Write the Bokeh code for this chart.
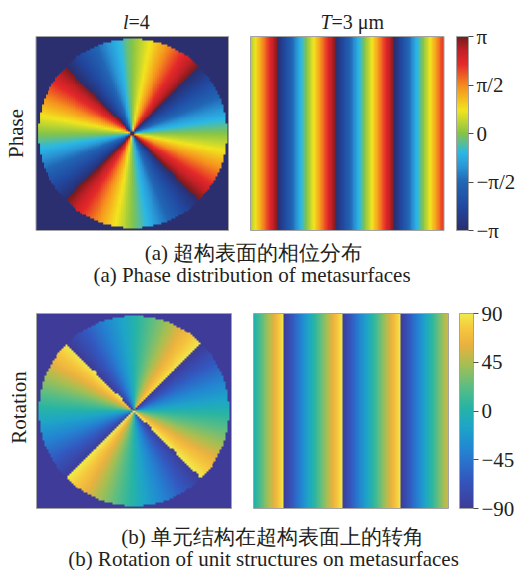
import numpy as np
from bokeh.plotting import figure
from bokeh.models import LinearColorMapper, ColorBar, FixedTicker, Range1d
from bokeh.core.properties import value
from bokeh.embed import file_html
from bokeh.resources import INLINE

# ---------------- data ----------------
topological_charge = 4          # l
grating_period_um = 3.0         # T (µm)
grating_width_um = 10.0
phase_offset_top = 0.22         # rad, read from stripe positions
phase_offset_bottom = -0.10
aperture_radius = 0.975
vortex_grid = 100
grating_cols = 240

phase_ticks = [-np.pi, -np.pi / 2, 0.0, np.pi / 2, np.pi]
phase_tick_labels = ["−π", "−π/2", "0", "π/2", "π"]
rot_ticks = [-90.0, -45.0, 0.0, 45.0, 90.0]
rot_tick_labels = ["−90", "−45", "0", "45", "90"]

row_labels = ["Phase", "Rotation"]
captions_a = ["(a) 超构表面的相位分布", "(a) Phase distribution of metasurfaces"]
captions_b = ["(b) 单元结构在超构表面上的转角", "(b) Rotation of unit structures on metasurfaces"]

# ---------------- colour maps ----------------
def make_palette(anchors, n=256):
    pos = np.array([a[0] for a in anchors])
    rgb = np.array([[int(a[1][i:i + 2], 16) for i in (1, 3, 5)] for a in anchors], float)
    t = np.linspace(0, 1, n)
    out = []
    for k in range(n):
        r, g, b = (np.interp(t[k], pos, rgb[:, j]) for j in range(3))
        out.append("#%02x%02x%02x" % (int(round(r)), int(round(g)), int(round(b))))
    return out

jet_like = make_palette([
    (0.00, "#2b2e6f"), (0.12, "#2148a0"), (0.25, "#2166b5"), (0.33, "#2a96d6"),
    (0.40, "#2ab8e6"), (0.50, "#86c447"), (0.62, "#f2e51e"), (0.74, "#f6921e"),
    (0.86, "#e5292a"), (0.93, "#c22026"), (1.00, "#761c1e")])
parula_like = make_palette([
    (0.00, "#3e3c98"), (0.15, "#3358c0"), (0.30, "#2385d2"), (0.42, "#1ea5c8"),
    (0.52, "#27b4a5"), (0.62, "#58bd85"), (0.74, "#a6bf52"), (0.84, "#eab13f"),
    (0.92, "#f6c63d"), (1.00, "#f1e94a")])

# ---------------- fields ----------------
c = (np.arange(vortex_grid) + 0.5) / vortex_grid * 2 - 1
X, Y = np.meshgrid(c, c)
theta = np.arctan2(Y, X)
R = np.hypot(X, Y)
vortex_phase = np.angle(np.exp(-1j * topological_charge * theta))
vortex_phase[R > aperture_radius] = -np.pi
vortex_rot = np.degrees(vortex_phase) / 2.0

xs = (np.arange(grating_cols) + 0.5) / grating_cols * grating_width_um
grating_phase_top = np.angle(np.exp(1j * (2 * np.pi * xs / grating_period_um + phase_offset_top)))
grating_phase_bot = np.angle(np.exp(1j * (2 * np.pi * xs / grating_period_um + phase_offset_bottom)))
grating_phase = np.tile(grating_phase_top, (2, 1))
grating_rot = np.tile(np.degrees(grating_phase_bot) / 2.0, (2, 1))

# ---------------- figure ----------------
W, H = 518, 570
p = figure(width=W, height=H, x_range=Range1d(0, W), y_range=Range1d(0, H),
           output_backend="svg", toolbar_location=None, min_border=0,
           x_axis_type=None, y_axis_type=None)
p.grid.visible = False
p.outline_line_color = None
p.background_fill_color = "white"

def Y_(ypx):
    return H - ypx

phase_mapper = LinearColorMapper(palette=jet_like, low=-np.pi, high=np.pi)
rot_mapper = LinearColorMapper(palette=parula_like, low=-90, high=90)

FONT = value("Liberation Serif")
BORDER = "#a3a3a3"

# panels: (image, mapper, left, right, top, bottom)  -- layout in pixels
panels = [
    (vortex_phase, phase_mapper, 35.5, 228.0, 36.0, 230.0),
    (grating_phase, phase_mapper, 250.0, 443.5, 36.0, 230.0),
    (vortex_rot, rot_mapper, 36.0, 231.0, 313.0, 508.0),
    (grating_rot, rot_mapper, 253.0, 448.0, 313.0, 508.0),
]
for img, mapper, l, r, t, b in panels:
    p.image(image=[img], x=l, y=Y_(b), dw=r - l, dh=b - t, color_mapper=mapper)
    p.quad(left=l, right=r, top=Y_(t), bottom=Y_(b), fill_alpha=0,
           line_color=BORDER, line_width=1)

# colour bars
def add_cbar(mapper, ticks, labels, x, top, bottom, width):
    cb = ColorBar(color_mapper=mapper, orientation="vertical",
                  location=(x, Y_(bottom)), width=width, height=bottom - top,
                  padding=0, ticker=FixedTicker(ticks=ticks),
                  major_label_overrides={float(k): v for k, v in zip(ticks, labels)},
                  major_tick_out=5, major_tick_in=0, major_tick_line_color="#4d4d4d",
                  minor_tick_out=0, minor_tick_in=0,
                  bar_line_color=BORDER, background_fill_alpha=0,
                  border_line_alpha=0, label_standoff=3,
                  major_label_text_font="Liberation Serif",
                  major_label_text_font_size="21px",
                  major_label_text_color="#231f20")
    p.add_layout(cb, "center")

add_cbar(phase_mapper, phase_ticks, phase_tick_labels, 456, 36, 230, 12)
add_cbar(rot_mapper, rot_ticks, rot_tick_labels, 459, 313, 508, 14)

TXT = "#231f20"
# column titles with italic symbols
p.text(x=[128], y=[Y_(21)], text=["l"], text_font=FONT, text_font_style="italic",
       text_font_size="20px", text_align="right", text_baseline="middle", text_color=TXT)
p.text(x=[128], y=[Y_(21)], text=["=%d" % topological_charge], text_font=FONT,
       text_font_size="20px", text_align="left", text_baseline="middle", text_color=TXT)
p.text(x=[331], y=[Y_(21)], text=["T"], text_font=FONT, text_font_style="italic",
       text_font_size="20px", text_align="right", text_baseline="middle", text_color=TXT)
p.text(x=[331], y=[Y_(21)], text=["=%d μm" % grating_period_um], text_font=FONT,
       text_font_size="20px", text_align="left", text_baseline="middle", text_color=TXT)

# row labels
p.text(x=[15, 18], y=[Y_(133), Y_(407)], text=row_labels, angle=np.pi / 2,
       text_font=FONT, text_font_size="21px", text_align="center",
       text_baseline="middle", text_color=TXT)

# captions
p.text(x=[253, 251.5], y=[Y_(252), Y_(274)], text=captions_a, text_font=FONT,
       text_font_size="21px", text_align="center", text_baseline="middle", text_color=TXT)
p.text(x=[272, 263], y=[Y_(536), Y_(558)], text=captions_b, text_font=FONT,
       text_font_size="21px", text_align="center", text_baseline="middle", text_color=TXT)

open("out.html", "w").write(file_html(p, INLINE))
